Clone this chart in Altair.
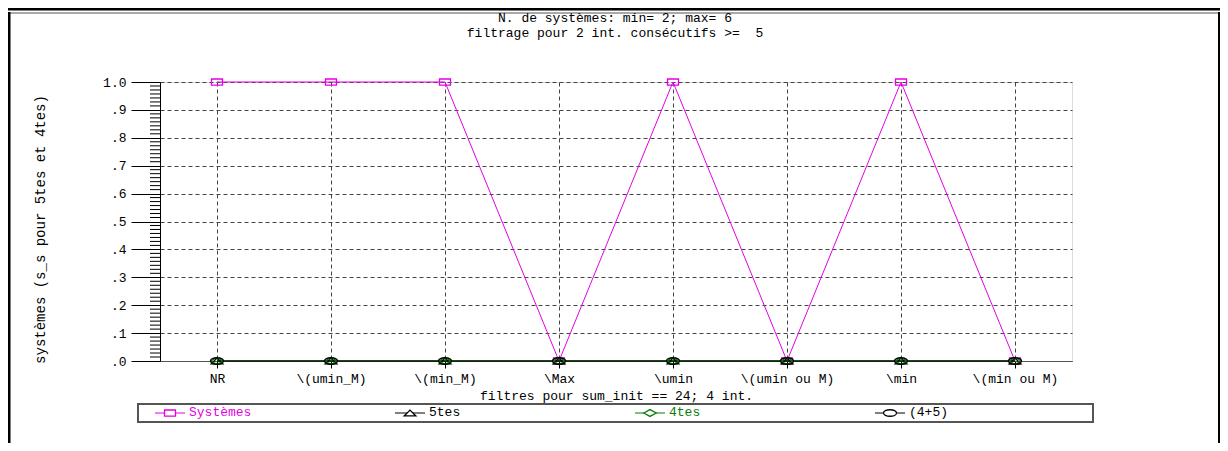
import altair as alt
import pandas as pd

# ---------------- data ----------------
categories = ["NR", r"\(umin_M)", r"\(min_M)", r"\Max", r"\umin",
              r"\(umin ou M)", r"\min", r"\(min ou M)"]
series_names = ["Systèmes", "5tes", "4tes", "(4+5)"]
systemes = [1, 1, 1, 0, 1, 0, 1, 0]
cinq_tes = [0, 0, 0, 0, 0, 0, 0, 0]
quatre_tes = [0, 0, 0, 0, 0, 0, 0, 0]
quatre_plus_cinq = [0, 0, 0, 0, 0, 0, 0, 0]
y_ticks = [0.0, 0.1, 0.2, 0.3, 0.4, 0.5, 0.6, 0.7, 0.8, 0.9, 1.0]
title_lines = ["N. de systèmes: min= 2; max= 6",
               "filtrage pour 2 int. consécutifs >=\u00a0 5"]
x_title = "filtres pour sum_init == 24; 4 int."
y_title = "systèmes (s_s pour 5tes et 4tes)"

# minor ticks on y axis (7 subdivisions per 0.1)
minor_ticks = [k / 70 for k in range(71) if k % 7 != 0]

series_values = [systemes, cinq_tes, quatre_tes, quatre_plus_cinq]
rows = []
for name, vals in zip(series_names, series_values):
    for c, v in zip(categories, vals):
        rows.append({"series": name, "category": c, "value": v})
df = pd.DataFrame(rows)
df_leg = pd.DataFrame({"series": series_names})
df_minor = pd.DataFrame({"value": minor_ticks})
one = pd.DataFrame({"k": [0]})

FONT = "Liberation Mono"
FS = 13
MAGENTA = "#e400e4"
GREEN = "#0b7d0b"
colors = [MAGENTA, "#000000", GREEN, "#000000"]
shapes = [
    "M-1,-0.55 L1,-0.55 L1,0.55 L-1,0.55 Z",
    "M-1,0.5 L0,-0.5 L1,0.5 Z",
    "M-1,0 L0,-0.55 L1,0 L0,0.55 Z",
    "M-1,0 A1,0.5 0 1 0 1,0 A1,0.5 0 1 0 -1,0 Z",
]
sizes = [121, 169, 169, 169]

color_enc = alt.Color("series:N", scale=alt.Scale(domain=series_names, range=colors), legend=None)
shape_enc = alt.Shape("series:N", scale=alt.Scale(domain=series_names, range=shapes), legend=None)
size_enc = alt.Size("series:N", scale=alt.Scale(domain=series_names, range=sizes), legend=None)

x_axis = alt.Axis(
    title=x_title, labelAngle=0, labelFont=FONT, labelFontSize=FS, labelColor="black",
    tickSize=7, tickColor="black", labelPadding=4, labelOverlap=False,
    grid=True, gridDash=[4, 3], gridColor="#444", gridOpacity=1,
    domainColor="#555", titleFont=FONT, titleFontSize=FS, titleFontWeight="normal",
    titleColor="black", titleY=34, titleBaseline="middle",
)
x_scale = alt.Scale(type="point", domain=categories, padding=0.5)
y_axis = alt.Axis(
    values=y_ticks, title=y_title, labelOverlap=False, labelBound=False, labelFlush=False,
    labelExpr="datum.value >= 1 ? '1.0' : replace(format(datum.value, '.1f'), '0.', '.')",
    labelFont=FONT, labelFontSize=FS, labelColor="black", labelPadding=5,
    tickSize=29, tickColor="black", domainColor="black",
    grid=True, gridDash=[4, 3], gridColor="#444", gridOpacity=1,
    titleFont=FONT, titleFontSize=14, titleFontWeight="normal", titleColor="black",
    titleX=-120, titleY=147, titleAngle=270, titleBaseline="middle", titleAlign="center",
)
y_scale = alt.Scale(domain=[0, 1], nice=False)

x_enc = alt.X("category:N", sort=categories, scale=x_scale, axis=x_axis)
y_enc = alt.Y("value:Q", scale=y_scale, axis=y_axis)

lines = alt.Chart(df).mark_line(strokeWidth=1).encode(
    x=x_enc, y=y_enc, color=color_enc, detail="series:N"
)
points = alt.Chart(df).mark_point(filled=False, strokeWidth=1.3, opacity=1).encode(
    x=x_enc, y=y_enc, color=color_enc, shape=shape_enc, size=size_enc,
)
minor = alt.Chart(df_minor).mark_rule(color="black", strokeWidth=1).encode(
    y=y_enc, x=alt.value(-10), x2=alt.value(0)
)

# title as text marks (centred over the plot)
title1 = alt.Chart(one).mark_text(font=FONT, fontSize=FS, color="black", align="center",
                                  baseline="middle").encode(
    x=alt.value(455), y=alt.value(-64), text=alt.value(title_lines[0])
)
title2 = alt.Chart(one).mark_text(font=FONT, fontSize=FS, color="black", align="center",
                                  baseline="middle").encode(
    x=alt.value(455), y=alt.value(-49), text=alt.value(title_lines[1])
)

# decorative frame
top_bar = alt.Chart(one).mark_rule(color="black", strokeWidth=3).encode(
    x=alt.value(-152), x2=alt.value(1060), y=alt.value(-73)
)
left_frame = alt.Chart(one).mark_rule(color="black", strokeWidth=3).encode(
    x=alt.value(-151), y=alt.value(-70), y2=alt.value(361)
)
right_frame = alt.Chart(one).mark_rule(color="black", strokeWidth=2).encode(
    x=alt.value(1059), y=alt.value(-70), y2=alt.value(361)
)
top_frame = alt.Chart(one).mark_rule(color="#555", strokeWidth=1).encode(
    x=alt.value(-151), x2=alt.value(1059), y=alt.value(-69)
)
legend_box = alt.Chart(one).mark_rect(fill="white", stroke="#555", strokeWidth=2).encode(
    x=alt.value(-22), x2=alt.value(933), y=alt.value(322), y2=alt.value(340)
)

# custom legend (positions from a point scale over the series names)
leg_x = alt.X("series:N", sort=series_names,
              scale=alt.Scale(type="point", domain=series_names, range=[10, 730], padding=0),
              axis=None)
leg_lines = alt.Chart(df_leg).mark_rule(strokeWidth=1, xOffset=-15, x2Offset=15).encode(
    x=leg_x, x2=alt.X2("series:N"), y=alt.value(331), color=color_enc
)
leg_pts = alt.Chart(df_leg).mark_point(filled=False, strokeWidth=1.3, opacity=1, fill="white").encode(
    x=leg_x, y=alt.value(331), color=color_enc, shape=shape_enc, size=size_enc
)
leg_text = alt.Chart(df_leg).mark_text(align="left", baseline="middle", dx=19, font=FONT,
                                       fontSize=FS).encode(
    x=leg_x, y=alt.value(330), text="series:N", color=color_enc
)

main = alt.layer(lines, points, minor)
legend = alt.layer(legend_box, leg_lines, leg_pts, leg_text)

chart = alt.layer(
    top_bar, top_frame, left_frame, right_frame, title1, title2, main, legend
).resolve_scale(x="independent").properties(
    width=912, height=279,
    autosize=alt.AutoSizeParams(type="none"),
    padding={"left": 152, "top": 74, "right": 148, "bottom": 82},
).configure_view(stroke="#222", strokeWidth=1).configure(background="white")

chart.save("out.html", embed_options={"renderer": "svg", "actions": False})
